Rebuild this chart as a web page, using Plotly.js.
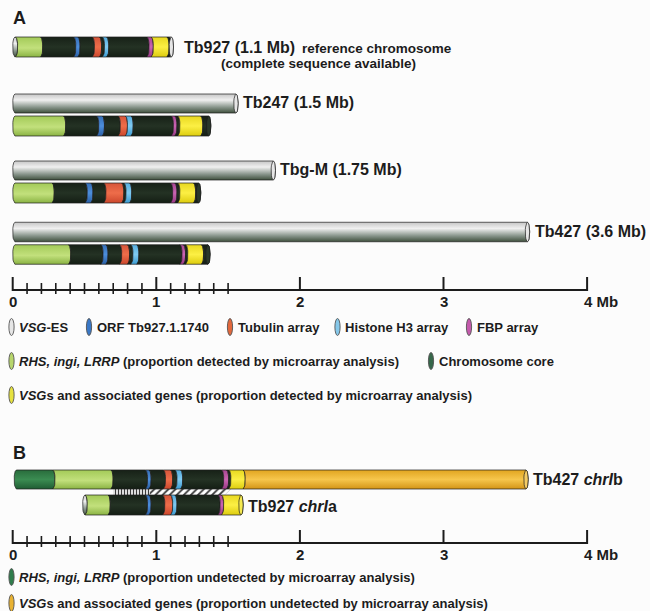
<!DOCTYPE html>
<html><head><meta charset="utf-8">
<script src="https://cdn.plot.ly/plotly-3.0.1.min.js"></script>
<style>html,body{margin:0;padding:0;background:#fcfcfc}</style>
</head><body><div id="chart" style="width:650px;height:611px"></div>
<script>
// ---------------- DATA (positions along chromosome, Mb) ----------------
// Panel A: full-length chromosome I homologues (VSG-ES style cylinders)
const chrNamesA   = ['Tb247 (1.5 Mb)', 'Tbg-M (1.75 Mb)', 'Tb427 (3.6 Mb)'];
const chrLengthsA = [1.57, 1.83, 3.60];

// Tb927 reference chromosome segments
const tb927Types  = ['es','rhs','core','orf','core','tub','core','his','core','fbp','vsg','core','es'];
const tb927Bounds = [0, 0.035, 0.21, 0.44, 0.47, 0.57, 0.62, 0.64, 0.67, 0.95, 0.98, 1.09, 1.105, 1.12];

// Portions detected by microarray analysis
const tb247Types  = ['rhs','core','orf','core','tub','his','core','fbp','core','vsg','core'];
const tb247Bounds = [0, 0.37, 0.60, 0.64, 0.75, 0.80, 0.84, 1.12, 1.145, 1.165, 1.325, 1.38];
const tbgmTypes   = ['rhs','core','orf','core','tub','core','his','core','fbp','core','vsg','core'];
const tbgmBounds  = [0, 0.29, 0.52, 0.56, 0.65, 0.775, 0.79, 0.83, 1.115, 1.145, 1.165, 1.275, 1.31];
const tb427Types  = ['rhs','core','orf','core','tub','core','his','core','fbp','core','vsg','core'];
const tb427Bounds = [0, 0.405, 0.63, 0.665, 0.76, 0.815, 0.838, 0.88, 1.18, 1.205, 1.22, 1.33, 1.375];

// Panel B
const chrIbName   = 'Tb427 <i>chrI</i>b';
const chrIbTypes  = ['rhsU','rhs','core','orf','core','tub','core','his','core','fbp','core','vsg','vsgU'];
const chrIbBounds = [0.01, 0.295, 0.70, 0.94, 0.965, 1.065, 1.115, 1.145, 1.185, 1.47, 1.505, 1.52, 1.62, 3.59];
const chrIaName   = 'Tb927 <i>chrI</i>a';
const chrIaTypes  = ['es','rhs','core','orf','core','tub','his','core','fbp','vsg'];
const chrIaBounds = [0.487, 0.52, 0.68, 0.94, 0.965, 1.06, 1.115, 1.145, 1.445, 1.47, 1.605];
const hatchVertical = [0.70, 0.955];
const hatchDiagonal = [0.955, 1.52];

// Scale bar
const scaleMajor  = [0, 1, 2, 3, 4];
const scaleMinor  = [0.1,0.2,0.3,0.4,0.5,0.6,0.7,0.8,0.9,1.1,1.2,1.3,1.4,1.5];
const scaleLabels = ['0','1','2','3','4 Mb'];

// Legends
const legendA1Labels = ['<i>VSG</i>-ES','ORF Tb927.1.1740','Tubulin array','Histone H3 array','FBP array'];
const legendA1Keys   = ['es','orf','tub','his','fbp'];
const legendA2Labels = ['<i>RHS, ingi, LRRP</i> (proportion detected by microarray analysis)','Chromosome core'];
const legendA2Keys   = ['rhs','core'];
const legendA3Labels = ['<i>VSG</i>s and associated genes (proportion detected by microarray analysis)'];
const legendA3Keys   = ['vsg'];
const legendB1Labels = ['<i>RHS, ingi, LRRP</i> (proportion undetected by microarray analysis)'];
const legendB1Keys   = ['rhsU'];
const legendB2Labels = ['<i>VSG</i>s and associated genes (proportion undetected by microarray analysis)'];
const legendB2Keys   = ['vsgU'];

// ---------------- STYLE / LAYOUT ----------------
const W = 650, H = 611;
const X0PX = 12.7, PXPERMB = 143.6;
const px2mb = p => (p - X0PX) / PXPERMB;
const R = 2.2 / PXPERMB;   // cylinder end curvature
const N = 12;
const FONT = 'Liberation Sans, Arial, Helvetica, sans-serif';
const INK = '#1c1c1c';

// colour stops listed top -> bottom
const GRAD_TOP_DOWN = {
  es:   [[0,'#3f503d'],[0.3,'#87948a'],[0.68,'#f0f0f0'],[1,'#c6c6c6']],
  rhs:  [[0,'#8ab343'],[0.45,'#c2e07c'],[1,'#a3ca58']],
  core: [[0,'#141e14'],[0.5,'#243224'],[1,'#172117']],
  orf:  [[0,'#2a60a6'],[0.5,'#4d8edb'],[1,'#356fb8']],
  tub:  [[0,'#cc472c'],[0.5,'#ee6d4a'],[1,'#d6553a']],
  his:  [[0,'#3c9cd2'],[0.5,'#80caf1'],[1,'#56aee0']],
  fbp:  [[0,'#983884'],[0.5,'#ca64b2'],[1,'#a84692']],
  vsg:  [[0,'#ddcc0e'],[0.5,'#fcef44'],[1,'#e8d820']],
  vsgU: [[0,'#d39416'],[0.5,'#f6c64c'],[1,'#e1a520']],
  rhsU: [[0,'#1f5c33'],[0.5,'#3b8c52'],[1,'#296c3c']]
};
// plotly's vertical gradient runs bottom -> top in screen space, so flip
const GRAD = {};
Object.keys(GRAD_TOP_DOWN).forEach(k => {
  GRAD[k] = GRAD_TOP_DOWN[k].map(([p, c]) => [1 - p, c]).reverse();
});
const FACE = {es:'#e6e6e6', core:'#2a382a', vsg:'#f6ea50', vsgU:'#f4cc66', rhs:'#c8e286'};
const ICON = {es:'#e6e6e6', orf:'#3a78c6', tub:'#e2683c', his:'#86c8ea', fbp:'#c45aac',
              rhs:'#b8d66c', core:'#36674a', vsg:'#e6e240', rhsU:'#2f7d4c', vsgU:'#e8b232'};

const traces = [];
function addChrom(bounds, types, yc, h) {
  const n = types.length;
  for (let i = 0; i < n; i++) {
    const s = bounds[i], e = bounds[i+1];
    const xs = [], ys = [];
    for (let k = 0; k <= N; k++) {
      const t = 1 - 2*k/N, d = R*Math.sqrt(Math.max(0, 1 - t*t));
      xs.push(i === 0 ? s + R - d : s - R + d); ys.push(yc + t*h/2);
    }
    for (let k = 0; k <= N; k++) {
      const t = -1 + 2*k/N, d = R*Math.sqrt(Math.max(0, 1 - t*t));
      xs.push(e - R + d); ys.push(yc + t*h/2);
    }
    xs.push(xs[0]); ys.push(ys[0]);
    traces.push({type:'scatter', mode:'lines', x:xs, y:ys, fill:'toself',
      fillgradient:{type:'vertical', colorscale:GRAD[types[i]], start:yc-h/2, stop:yc+h/2},
      line:{color:INK, width:0.7}, hoverinfo:'skip', showlegend:false});
  }
  const e = bounds[n], cx = e - R, xs = [], ys = [];
  for (let k = 0; k <= 2*N; k++) {
    const a = 2*Math.PI*k/(2*N);
    xs.push(cx + R*Math.cos(a)); ys.push(yc + h/2*Math.sin(a));
  }
  traces.push({type:'scatter', mode:'lines', x:xs, y:ys, fill:'toself',
    fillcolor:FACE[types[n-1]] || '#ddd', line:{color:INK, width:0.7},
    hoverinfo:'skip', showlegend:false});
}

// rows: [centre y px, height px]
const rowTb927 = [47, 20];
const rowsGrey = [[103.5, 19], [170.5, 19], [232, 19.5]];
const rowsDet  = [[126, 20], [193, 20], [254.5, 19.5]];
const rowIb = [479.5, 19], rowIa = [505, 20];

addChrom(tb927Bounds, tb927Types, rowTb927[0], rowTb927[1]);
chrLengthsA.forEach((L, i) => addChrom([0, L], ['es'], rowsGrey[i][0], rowsGrey[i][1]));
addChrom(tb247Bounds, tb247Types, rowsDet[0][0], rowsDet[0][1]);
addChrom(tbgmBounds,  tbgmTypes,  rowsDet[1][0], rowsDet[1][1]);
addChrom(tb427Bounds, tb427Types, rowsDet[2][0], rowsDet[2][1]);

// hatch between chrIb and chrIa
const hTop = rowIb[0] + rowIb[1]/2, hBot = rowIa[0] - rowIa[1]/2;
const slant = 0.045;
traces.push({type:'scatter', mode:'lines', fill:'toself',
  x:[hatchVertical[0], hatchVertical[1], hatchVertical[1], hatchVertical[0], hatchVertical[0]],
  y:[hTop, hTop, hBot, hBot, hTop], line:{width:0, color:'rgba(0,0,0,0)'},
  fillpattern:{shape:'|', fgcolor:'#3a3a3a', bgcolor:'#ffffff', size:3, solidity:0.45},
  hoverinfo:'skip', showlegend:false});
traces.push({type:'scatter', mode:'lines', fill:'toself',
  x:[hatchDiagonal[0], hatchDiagonal[1], hatchDiagonal[1]-slant, hatchDiagonal[0], hatchDiagonal[0]],
  y:[hTop, hTop, hBot, hBot, hTop], line:{width:0, color:'rgba(0,0,0,0)'},
  fillpattern:{shape:'/', fgcolor:'#3a3a3a', bgcolor:'#ffffff', size:5, solidity:0.35},
  hoverinfo:'skip', showlegend:false});

addChrom(chrIbBounds, chrIbTypes, rowIb[0], rowIb[1]);
addChrom(chrIaBounds, chrIaTypes, rowIa[0], rowIa[1]);

// scale bars
const annotations = [];
function addScale(yl) {
  traces.push({type:'scatter', mode:'lines', x:[scaleMajor[0], scaleMajor[scaleMajor.length-1]], y:[yl, yl],
    line:{color:INK, width:2}, hoverinfo:'skip', showlegend:false});
  const mx = [], my = [];
  scaleMajor.forEach(t => { mx.push(t, t, null); my.push(yl - 13, yl + 1, null); });
  traces.push({type:'scatter', mode:'lines', x:mx, y:my, line:{color:INK, width:2}, hoverinfo:'skip', showlegend:false});
  const nx = [], ny = [];
  scaleMinor.forEach(t => { nx.push(t, t, null); ny.push(yl - 7, yl + 4, null); });
  traces.push({type:'scatter', mode:'lines', x:nx, y:ny, line:{color:INK, width:1.6}, hoverinfo:'skip', showlegend:false});
  scaleLabels.forEach((lab, i) => {
    const last = i === scaleLabels.length - 1;
    annotations.push({xref:'x', yref:'y', x:scaleMajor[i], y:yl + 11, text:lab, showarrow:false,
      xanchor:last ? 'left' : 'center', yanchor:'middle', xshift:last ? -5 : 0,
      font:{family:FONT, size:15, color:INK, weight:'bold'}});
  });
}
addScale(290);
addScale(543);

// chromosome name labels
function label(xMb, y, text, shift) {
  annotations.push({xref:'x', yref:'y', x:xMb, y:y, text:text, showarrow:false, xanchor:'left',
    yanchor:'middle', xshift:shift, font:{family:FONT, size:16, color:INK, weight:'bold'}});
}
label(tb927Bounds[tb927Bounds.length-1], rowTb927[0], 'Tb927 (1.1 Mb)', 8);
chrLengthsA.forEach((L, i) => label(L, rowsGrey[i][0] - 1, chrNamesA[i], 3));
label(chrIbBounds[chrIbBounds.length-1], rowIb[0], chrIbName, 3);
label(chrIaBounds[chrIaBounds.length-1], rowIa[0] + 1, chrIaName, 3);

function paperText(xpx, y, text, size, anchor) {
  annotations.push({xref:'paper', yref:'y', x:xpx/W, y:y, text:text, showarrow:false,
    xanchor:anchor || 'left', yanchor:'middle', font:{family:FONT, size:size, color:INK, weight:'bold'}});
}
paperText(300, 48, 'reference chromosome', 13.5);
paperText(318, 63.5, '(complete sequence available)', 13.5, 'center');
paperText(11, 18, 'A', 18);
paperText(11, 453, 'B', 18);

// legends
const shapes = [];
function legendRow(labels, keys, iconX, y) {
  labels.forEach((lab, i) => {
    const cx = iconX[i];
    shapes.push({type:'circle', xref:'paper', yref:'y', x0:(cx-2.6)/W, x1:(cx+2.6)/W, y0:y-8.5, y1:y+8.5,
      fillcolor:ICON[keys[i]], line:{color:'#555', width:0.9}});
    paperText(cx + 5.5, y, lab, 13);
  });
}
legendRow(legendA1Labels, legendA1Keys, [11.5, 89, 230, 337.5, 469], 327);
legendRow(legendA2Labels, legendA2Keys, [11.5, 431], 361);
legendRow(legendA3Labels, legendA3Keys, [11.5], 395);
legendRow(legendB1Labels, legendB1Keys, [11.5], 577);
legendRow(legendB2Labels, legendB2Keys, [11.5], 603);

const layout = {
  width:W, height:H, margin:{l:0, r:0, t:0, b:0},
  paper_bgcolor:'#fcfcfc', plot_bgcolor:'#fcfcfc', showlegend:false,
  xaxis:{range:[px2mb(0), px2mb(W)], visible:false, fixedrange:true},
  yaxis:{range:[H, 0], visible:false, fixedrange:true},
  annotations:annotations, shapes:shapes
};
Plotly.newPlot('chart', traces, layout, {staticPlot:true, displayModeBar:false});
</script></body></html>
